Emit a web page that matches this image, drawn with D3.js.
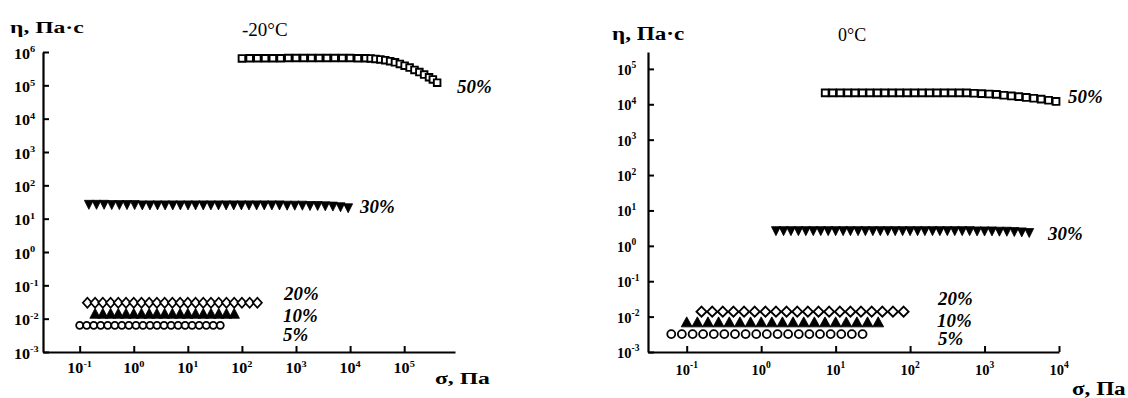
<!DOCTYPE html>
<html>
<head>
<meta charset="utf-8">
<script src="https://cdn.jsdelivr.net/npm/d3@7"></script>
<style>
  html, body { margin: 0; padding: 0; background: #fff; }
  svg { display: block; }
</style>
</head>
<body>
<svg id="chart" width="1128" height="398"></svg>
<script>
// ---------- -20°C: shear stress σ (Pa) and viscosity η (Pa·s) ----------
const sigmaL50 = [100, 139, 193, 268, 373, 518, 720, 1000, 1390, 1930, 2680, 3730, 5180, 7200, 10000, 13900, 19300,
                  24000, 29500, 36300, 44700, 55000, 67600, 83200, 102000, 126000, 155000, 191000, 234000, 288000, 339000, 407000];
const etaL50   = [6.4e5, 6.5e5, 6.5e5, 6.5e5, 6.5e5, 6.5e5, 6.6e5, 6.6e5, 6.6e5, 6.6e5, 6.6e5, 6.6e5, 6.6e5, 6.6e5, 6.6e5, 6.5e5, 6.5e5,
                  6.4e5, 6.2e5, 6.0e5, 5.7e5, 5.3e5, 4.9e5, 4.4e5, 3.9e5, 3.4e5, 2.9e5, 2.5e5, 2.1e5, 1.75e5, 1.5e5, 1.2e5];

const sigmaL30 = [0.148, 0.205, 0.283, 0.392, 0.542, 0.75, 1.04, 1.44, 1.99, 2.75, 3.8, 5.26, 7.28, 10.1, 13.9, 19.3, 26.7, 36.9,
                  51.1, 70.6, 97.7, 135, 187, 259, 358, 495, 686, 948, 1312, 1816, 2512, 3475, 4808, 6653, 9204];
const etaL30   = [26, 26, 26, 25.5, 25.5, 25.5, 25.5, 25, 25, 25, 25, 25, 25, 25, 25, 25, 25, 25,
                  25, 25, 25, 25, 25, 25, 25, 25, 24.5, 24.5, 24.5, 24, 24, 23.5, 23, 22, 20.5];

const sigmaL20 = [0.139, 0.193, 0.268, 0.373, 0.518, 0.72, 1.0, 1.39, 1.93, 2.68, 3.73, 5.18, 7.2, 10, 13.9, 19.3, 26.8,
                  37.3, 51.8, 72, 100, 139, 193];
const etaL20   = [0.030, 0.030, 0.030, 0.030, 0.030, 0.030, 0.030, 0.030, 0.030, 0.030, 0.030, 0.030, 0.030, 0.030, 0.030,
                  0.030, 0.030, 0.030, 0.030, 0.030, 0.030, 0.030, 0.030];

const sigmaL10 = [0.193, 0.268, 0.373, 0.518, 0.72, 1.0, 1.39, 1.93, 2.68, 3.73, 5.18, 7.2, 10, 13.9, 19.3, 26.8, 37.3, 51.8, 72];
const etaL10   = [0.0145, 0.0145, 0.0145, 0.0145, 0.0145, 0.0145, 0.0145, 0.0145, 0.0145, 0.0145, 0.0145, 0.0145, 0.0145,
                  0.0145, 0.0145, 0.0145, 0.0145, 0.0145, 0.0145];

const sigmaL5  = [0.1, 0.135, 0.182, 0.245, 0.33, 0.447, 0.603, 0.813, 1.1, 1.48, 2.0, 2.69, 3.63, 4.9, 6.61, 8.91,
                  12.0, 16.2, 21.9, 29.5, 39.8];
const etaL5    = [0.0063, 0.0063, 0.0063, 0.0063, 0.0063, 0.0063, 0.0063, 0.0063, 0.0063, 0.0063, 0.0063, 0.0063,
                  0.0063, 0.0063, 0.0063, 0.0063, 0.0063, 0.0063, 0.0063, 0.0063, 0.0063];

// ---------- 0°C ----------
const sigmaR50 = [7.24, 9.12, 11.5, 14.5, 18.2, 22.9, 28.8, 36.3, 45.7, 57.5, 72.4, 91.2, 115, 145, 182, 229, 288, 363, 457,
                  575, 724, 912, 1148, 1445, 1820, 2291, 2884, 3631, 4571, 5754, 7244, 9120];
const etaR50   = [2.1e4, 2.1e4, 2.1e4, 2.1e4, 2.1e4, 2.1e4, 2.1e4, 2.1e4, 2.1e4, 2.1e4, 2.1e4, 2.1e4, 2.1e4, 2.1e4, 2.1e4,
                  2.1e4, 2.1e4, 2.1e4, 2.1e4, 2.1e4, 2.05e4, 2.0e4, 1.95e4, 1.9e4, 1.8e4, 1.72e4, 1.64e4, 1.56e4, 1.48e4,
                  1.4e4, 1.3e4, 1.2e4];

const sigmaR30 = [1.58, 2.0, 2.51, 3.16, 3.98, 5.01, 6.31, 7.94, 10, 12.6, 15.8, 20, 25.1, 31.6, 39.8, 50.1, 63.1, 79.4,
                  100, 126, 158, 200, 251, 316, 398, 501, 631, 794, 1000, 1259, 1585, 1995, 2512, 3162, 3981];
const etaR30   = [2.6, 2.6, 2.6, 2.6, 2.6, 2.6, 2.6, 2.6, 2.6, 2.6, 2.6, 2.6, 2.6, 2.6, 2.6, 2.6, 2.6, 2.6,
                  2.6, 2.6, 2.6, 2.6, 2.6, 2.6, 2.6, 2.6, 2.6, 2.55, 2.55, 2.55, 2.5, 2.5, 2.45, 2.4, 2.3];

const sigmaR20 = [0.158, 0.22, 0.305, 0.424, 0.589, 0.818, 1.14, 1.58, 2.19, 3.05, 4.24, 5.89, 8.18, 11.4, 15.8, 21.9,
                  30.5, 42.4, 58.9, 81.8];
const etaR20   = [0.0138, 0.0138, 0.0138, 0.0138, 0.0138, 0.0138, 0.0138, 0.0138, 0.0138, 0.0138, 0.0138, 0.0138,
                  0.0138, 0.0138, 0.0138, 0.0138, 0.0138, 0.0138, 0.0138, 0.0138];

const sigmaR10 = [0.1, 0.139, 0.193, 0.268, 0.373, 0.518, 0.72, 1.0, 1.39, 1.93, 2.68, 3.73, 5.18, 7.2, 10, 13.9,
                  19.3, 26.8, 37.3];
const etaR10   = [0.0071, 0.0071, 0.0071, 0.0071, 0.0071, 0.0071, 0.0071, 0.0071, 0.0071, 0.0071, 0.0071, 0.0071,
                  0.0071, 0.0071, 0.0071, 0.0071, 0.0071, 0.0071, 0.0071];

const sigmaR5  = [0.062, 0.086, 0.12, 0.166, 0.231, 0.32, 0.445, 0.618, 0.859, 1.19, 1.66, 2.3, 3.2, 4.44, 6.17,
                  8.57, 11.9, 16.5, 23];
const etaR5    = [0.0032, 0.0032, 0.0032, 0.0032, 0.0032, 0.0032, 0.0032, 0.0032, 0.0032, 0.0032, 0.0032, 0.0032,
                  0.0032, 0.0032, 0.0032, 0.0032, 0.0032, 0.0032, 0.0032];

// Tick exponents (labels are 10^n)
const yTickExpL = [-3, -2, -1, 0, 1, 2, 3, 4, 5, 6];
const xTickExpL = [-1, 0, 1, 2, 3, 4, 5];
const yTickExpR = [-3, -2, -1, 0, 1, 2, 3, 4, 5];
const xTickExpR = [-1, 0, 1, 2, 3, 4];

const seriesNames = ["50%", "30%", "20%", "10%", "5%"];

const SERIF = "Liberation Serif, Times New Roman, serif";

// ---------- marker glyphs (relative to the point) ----------
const glyph = {
  square:  s => `M${-s/2},${-s/2}h${s}v${s}h${-s}Z`,
  triDown: (w, h) => `M${-w/2},${-h/2}L${w/2},${-h/2}L0,${h/2}Z`,
  triUp:   (w, h) => `M${-w/2},${h/2}L${w/2},${h/2}L0,${-h/2}Z`,
  diamond: (w, h) => `M0,${-h/2}L${w/2},0L0,${h/2}L${-w/2},0Z`
};

const svg = d3.select("#chart").attr("font-family", SERIF);

// text placed at (x, y) and widened by sx
function label(parent, x, y, size, sx, opts = {}) {
  return parent.append("text")
    .attr("transform", `translate(${x},${y}) scale(${sx},1)`)
    .attr("font-family", SERIF)
    .attr("font-size", size)
    .attr("font-weight", opts.bold ? "bold" : "normal")
    .attr("font-style", opts.italic ? "italic" : "normal")
    .attr("text-anchor", opts.anchor || "start");
}

function drawPanel(p) {
  const x = d3.scaleLog().domain(p.xDomain).range(p.xRange);
  const y = d3.scaleLog().domain(p.yDomain).range(p.yRange);
  const g = svg.append("g");
  const axisY = p.yRange[0];
  const axisX = p.xRange[0];

  // axes with inward ticks
  const yAxis = d3.axisLeft(y).tickValues(p.yTicks.map(e => Math.pow(10, e)))
    .tickSizeInner(-6).tickSizeOuter(0).tickFormat(() => "");
  const xAxis = d3.axisBottom(x).tickValues(p.xTicks.map(e => Math.pow(10, e)))
    .tickSizeInner(-6).tickSizeOuter(0).tickFormat(() => "");

  const gy = g.append("g").attr("transform", `translate(${axisX},0)`).call(yAxis);
  const gx = g.append("g").attr("transform", `translate(0,${axisY})`).call(xAxis);
  [gy, gx].forEach(a => {
    a.select(".domain").attr("stroke", "#000").attr("stroke-width", 2.2);
    a.selectAll(".tick line").attr("stroke", "#000").attr("stroke-width", 2);
  });

  // tick labels 10^n
  const power = (t, e) => {
    t.append("tspan").text("10");
    t.append("tspan").attr("font-size", p.supFont).attr("dy", -p.tickFont * 0.45).text(e);
  };
  p.yTicks.forEach(e => {
    power(label(g, axisX - p.yLabelOffset, y(Math.pow(10, e)) + p.yLabelDy, p.tickFont, p.tickSx, { bold: true }), e);
  });
  p.xTicks.forEach(e => {
    power(label(g, x(Math.pow(10, e)), axisY + p.xLabelDy, p.tickFont, p.tickSx, { bold: true, anchor: "middle" }), e);
  });

  // data markers
  p.series.forEach(s => {
    const pts = s.sigma.map((v, i) => [v, s.eta[i]]);
    const sg = g.append("g");
    if (s.shape === "circle") {
      sg.selectAll("circle").data(pts).join("circle")
        .attr("cx", d => x(d[0])).attr("cy", d => y(d[1]))
        .attr("r", s.size[0] / 2)
        .attr("fill", "#fff").attr("stroke", "#000").attr("stroke-width", s.stroke);
    } else {
      sg.selectAll("path").data(pts).join("path")
        .attr("transform", d => `translate(${x(d[0])},${y(d[1])})`)
        .attr("d", glyph[s.shape](...s.size))
        .attr("fill", s.filled ? "#000" : "#fff")
        .attr("stroke", "#000").attr("stroke-width", s.stroke)
        .attr("stroke-linejoin", "miter");
    }
  });

  // series labels
  p.labels.forEach((lab, i) => {
    label(g, lab[0], lab[1], p.seriesFont, 1.05, { bold: true, italic: true }).text(seriesNames[i]);
  });

  // axis titles and temperature
  label(g, p.yTitle[0], p.yTitle[1], p.titleFont, p.titleSx, { bold: true }).text("η, Па·с");
  label(g, p.xTitle[0], p.xTitle[1], p.titleFont, p.titleSx, { bold: true }).text("σ, Па");
  label(g, p.temp[0], p.temp[1], p.tempFont, 1).text(p.tempText);
}

drawPanel({
  xDomain: [0.021, 8.7e5], xRange: [43, 455],
  yDomain: [1e-3, 1e6], yRange: [352, 52],
  yTicks: yTickExpL, xTicks: xTickExpL,
  tickFont: 14, supFont: 9, tickSx: 1.15, yLabelOffset: 29, yLabelDy: 6.5, xLabelDy: 21,
  seriesFont: 18, titleFont: 17.5, titleSx: 1.35,
  series: [
    { sigma: sigmaL50, eta: etaL50, shape: "square",  size: [6.6],     filled: false, stroke: 1.9 },
    { sigma: sigmaL30, eta: etaL30, shape: "triDown", size: [9, 9],    filled: true,  stroke: 0.8 },
    { sigma: sigmaL5,  eta: etaL5,  shape: "circle",  size: [7],       filled: false, stroke: 1.8 },
    { sigma: sigmaL10, eta: etaL10, shape: "triUp",   size: [10.5, 10], filled: true, stroke: 0.8 },
    { sigma: sigmaL20, eta: etaL20, shape: "diamond", size: [9, 10],   filled: false, stroke: 1.8 }
  ],
  labels: [[457, 93], [360, 213], [284, 300], [283, 322], [283, 341]],
  yTitle: [10, 33], xTitle: [435, 384],
  temp: [242, 36], tempText: "-20°C", tempFont: 19
});

drawPanel({
  xDomain: [0.0302, 1e4], xRange: [648, 1059],
  yDomain: [1e-3, 3.0e5], yRange: [352, 52],
  yTicks: yTickExpR, xTicks: xTickExpR,
  tickFont: 14.5, supFont: 9.5, tickSx: 1.0, yLabelOffset: 31, yLabelDy: 6, xLabelDy: 23,
  seriesFont: 18, titleFont: 18.5, titleSx: 1.25,
  series: [
    { sigma: sigmaR50, eta: etaR50, shape: "square",  size: [6.8],     filled: false, stroke: 1.9 },
    { sigma: sigmaR30, eta: etaR30, shape: "triDown", size: [9, 9],    filled: true,  stroke: 0.8 },
    { sigma: sigmaR5,  eta: etaR5,  shape: "circle",  size: [8],       filled: false, stroke: 1.8 },
    { sigma: sigmaR10, eta: etaR10, shape: "triUp",   size: [11, 10],  filled: true,  stroke: 0.8 },
    { sigma: sigmaR20, eta: etaR20, shape: "diamond", size: [10, 10],  filled: false, stroke: 1.9 }
  ],
  labels: [[1068, 103], [1048, 240], [938, 305], [937, 327], [938, 345]],
  yTitle: [612, 40], xTitle: [1072, 395],
  temp: [838, 41], tempText: "0°C", tempFont: 18
});
</script>
</body>
</html>
